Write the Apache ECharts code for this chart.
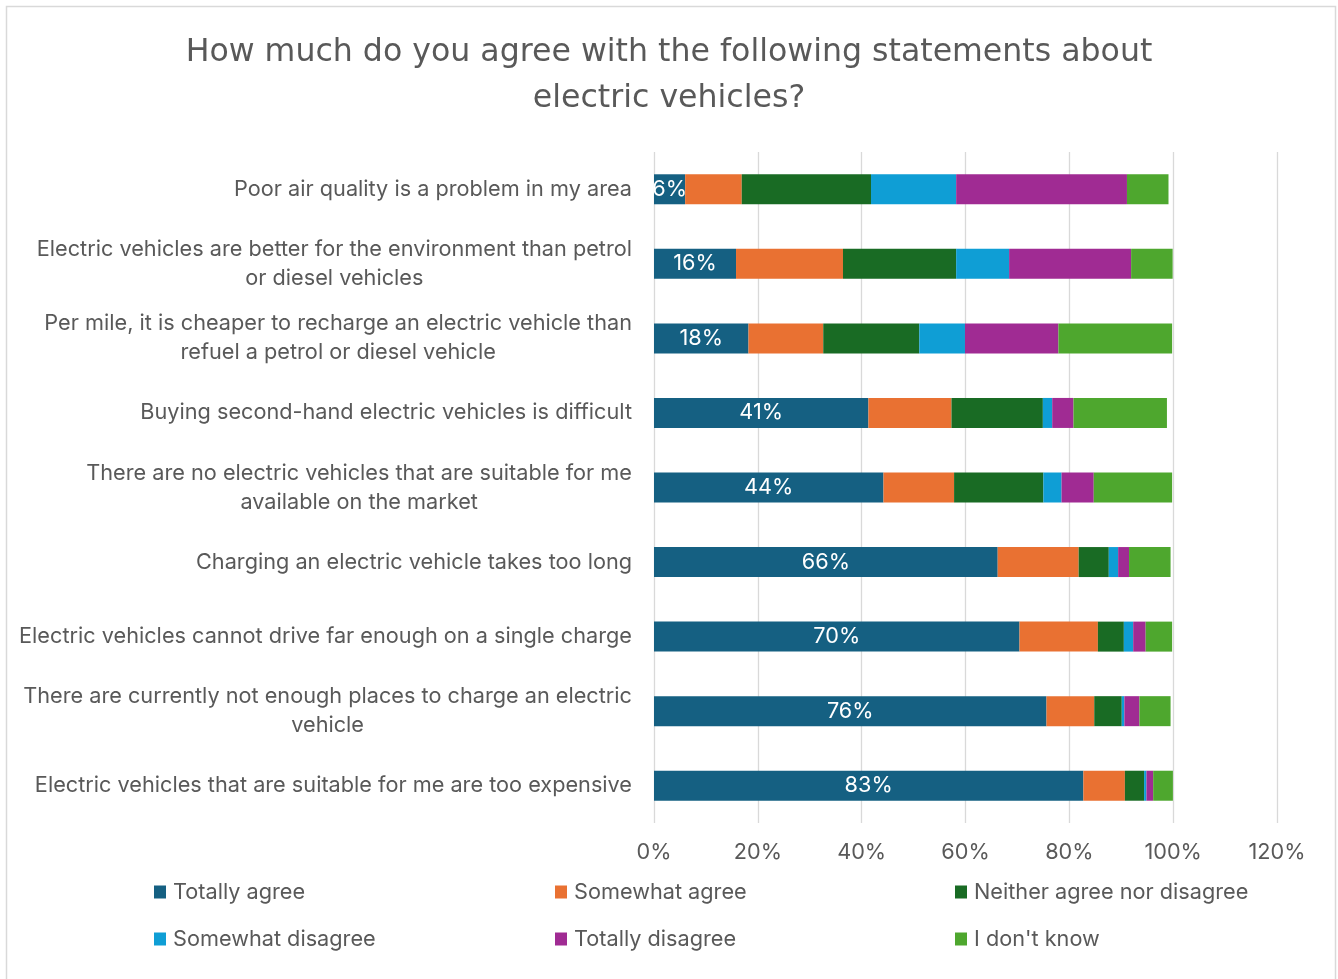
<!DOCTYPE html>
<html>
<head>
<meta charset="utf-8">
<script src="https://cdn.jsdelivr.net/npm/echarts@6/dist/echarts.min.js"></script>
<style>
  html, body { margin: 0; padding: 0; background: #ffffff; }
  #chart { width: 1338px; height: 979px; }
</style>
</head>
<body>
<div id="chart"></div>
<script>
// Survey statements (top to bottom)
const categories = [
  'Poor air quality is a problem in my area',
  'Electric vehicles are better for the environment than petrol\nor diesel vehicles',
  'Per mile, it is cheaper to recharge an electric vehicle than\nrefuel a petrol or diesel vehicle',
  'Buying second-hand electric vehicles is difficult',
  'There are no electric vehicles that are suitable for me\navailable on the market',
  'Charging an electric vehicle takes too long',
  'Electric vehicles cannot drive far enough on a single charge',
  'There are currently not enough places to charge an electric\nvehicle',
  'Electric vehicles that are suitable for me are too expensive'
];

// Share of responses per answer (%)
const totallyAgree      = [6.0, 15.8, 18.2, 41.3, 44.2, 66.2, 70.4, 75.6, 82.7];
const somewhatAgree     = [10.9, 20.6, 14.4, 16.0, 13.6, 15.6, 15.1, 9.2, 8.0];
const neither           = [24.9, 21.8, 18.5, 17.6, 17.2, 5.8, 5.0, 5.3, 3.7];
const somewhatDisagree  = [16.4, 10.2, 8.8, 1.8, 3.5, 1.8, 1.8, 0.5, 0.45];
const totallyDisagree   = [32.9, 23.5, 18.0, 4.1, 6.2, 2.1, 2.4, 2.9, 1.3];
const dontKnow          = [8.0, 8.0, 21.9, 18.0, 15.1, 8.0, 5.1, 6.0, 3.8];

const seriesNames = ['Totally agree', 'Somewhat agree', 'Neither agree nor disagree',
                     'Somewhat disagree', 'Totally disagree', "I don't know"];
const seriesValues = [totallyAgree, somewhatAgree, neither, somewhatDisagree, totallyDisagree, dontKnow];
const seriesColors = ['#156082', '#E97132', '#196B24', '#0F9ED5', '#A02B93', '#4EA72E'];

const xTicks = [0, 20, 40, 60, 80, 100, 120];

const FONT = 'Inter';
const TITLE_FONT = 'DejaVu Sans';
const SIZE = 21.7;
const GREY = '#595959';

const chart = echarts.init(document.getElementById('chart'), null, { renderer: 'canvas' });

const series = seriesNames.map((name, i) => ({
  name: name,
  type: 'bar',
  stack: 'total',
  barWidth: 30,
  data: seriesValues[i],
  itemStyle: { color: seriesColors[i] },
  label: i === 0 ? {
    show: true,
    position: 'inside',
    color: '#ffffff',
    fontFamily: FONT,
    fontSize: SIZE,
    formatter: p => Math.round(p.value) + '%'
  } : { show: false },
  emphasis: { disabled: true }
}));

// One legend per entry, laid out in a 3 x 2 grid
const legendCols = [154, 555, 955];
const legendRows = [881, 928];
const legends = seriesNames.map((name, i) => ({
  left: legendCols[i % 3],
  top: legendRows[Math.floor(i / 3)],
  padding: 0,
  orient: 'horizontal',
  itemWidth: 12,
  itemHeight: 13,
  icon: 'rect',
  selectedMode: false,
  data: [name],
  textStyle: {
    fontFamily: FONT,
    fontSize: SIZE,
    color: GREY,
    padding: [0, 0, 0, 2]
  }
}));

chart.setOption({
  animation: false,
  backgroundColor: '#ffffff',
  title: {
    text: 'How much do you agree with the following statements about\nelectric vehicles?',
    left: 'center',
    top: 25,
    textStyle: {
      fontFamily: TITLE_FONT,
      fontSize: 31.6,
      fontWeight: 'normal',
      color: GREY,
      lineHeight: 46
    }
  },
  graphic: [{
    type: 'rect',
    shape: { x: 6.5, y: 6.5, width: 1329, height: 990 },
    style: { fill: 'none', stroke: '#d9d9d9', lineWidth: 1.5 },
    silent: true
  }],
  legend: legends,
  grid: {
    left: 654,
    right: 61,
    top: 152,
    height: 671,
    containLabel: false
  },
  xAxis: {
    type: 'value',
    min: xTicks[0],
    max: xTicks[xTicks.length - 1],
    interval: 20,
    axisLine: { show: false },
    axisTick: { show: false },
    splitLine: { show: true, lineStyle: { color: '#d9d9d9', width: 1.3 } },
    axisLabel: {
      fontFamily: FONT,
      fontSize: SIZE,
      color: GREY,
      margin: 18,
      formatter: v => v + '%'
    }
  },
  yAxis: {
    type: 'category',
    inverse: true,
    data: categories,
    axisLine: { show: false },
    axisTick: { show: false },
    axisLabel: {
      margin: 22,
      fontFamily: FONT,
      fontSize: SIZE,
      color: GREY,
      lineHeight: 29,
      formatter: v => v.split('\n').map(l => '{c|' + l + '}').join('\n'),
      rich: {
        c: { align: 'center', fontFamily: FONT, fontSize: SIZE, color: GREY, lineHeight: 29 }
      }
    }
  },
  series: series
});
</script>
</body>
</html>
